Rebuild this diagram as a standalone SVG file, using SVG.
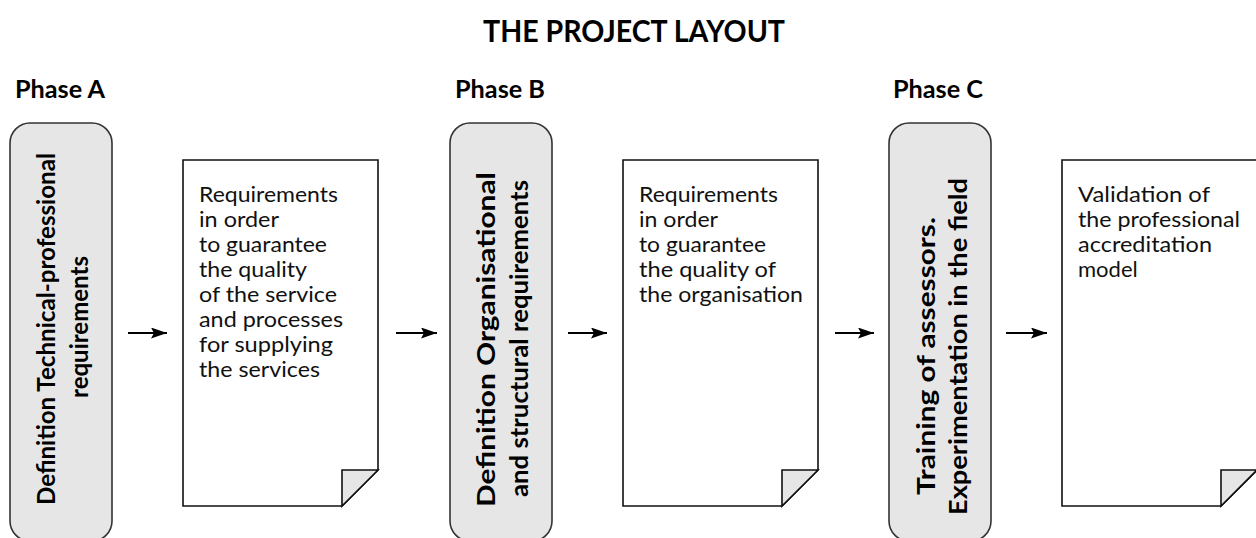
<svg xmlns="http://www.w3.org/2000/svg" width="1256" height="538" viewBox="0 0 1256 538">
<style>
text{font-family:Lato,"Liberation Sans",sans-serif;fill:#000}
.title{font-size:30px;font-weight:bold}
.phase{font-size:24px;font-weight:bold}
.vt{font-size:24px;font-weight:bold}
.dt{font-size:22px;fill:#111}
.box{fill:#e6e6e6;stroke:#333;stroke-width:1.6}
.doc{fill:#fff;stroke:#111;stroke-width:1.6;stroke-linejoin:miter}
.fold{fill:#e6e6e6;stroke:#111;stroke-width:1.6}
.arr{stroke:#000;stroke-width:2.2;marker-end:url(#ah)}
</style>
<defs>
<marker id="ah" markerWidth="17" markerHeight="11" refX="16" refY="5.5" orient="auto" markerUnits="userSpaceOnUse">
<path d="M0,0 L16,5.5 L0,11 L3,5.5 Z" fill="#000"/>
</marker>
</defs>
<rect width="1256" height="538" fill="#fff"/>
<text class="title" x="483" y="42" textLength="302" lengthAdjust="spacingAndGlyphs">THE PROJECT LAYOUT</text>
<text class="phase" x="15" y="98" textLength="90" lengthAdjust="spacingAndGlyphs">Phase A</text>
<text class="phase" x="455" y="98" textLength="90" lengthAdjust="spacingAndGlyphs">Phase B</text>
<text class="phase" x="893" y="98" textLength="90" lengthAdjust="spacingAndGlyphs">Phase C</text>

<g id="boxA">
<rect class="box" x="10" y="123" width="102" height="418" rx="20"/>
<text class="vt" transform="translate(55,505) rotate(-90)" textLength="352" lengthAdjust="spacingAndGlyphs">Definition Technical-professional</text>
<text class="vt" transform="translate(88,327) rotate(-90)" text-anchor="middle">requirements</text>
</g>
<g id="docA">
<path class="doc" d="M183,160 H378 V470 L342,506 H183 Z"/>
<path class="fold" d="M342,470 H378 L342,506 Z"/>
<text class="dt" x="199" y="202" textLength="139" lengthAdjust="spacingAndGlyphs">Requirements</text>
<text class="dt" x="199" y="227" textLength="80" lengthAdjust="spacingAndGlyphs">in order</text>
<text class="dt" x="199" y="252" textLength="128" lengthAdjust="spacingAndGlyphs">to guarantee</text>
<text class="dt" x="199" y="277" textLength="108" lengthAdjust="spacingAndGlyphs">the quality</text>
<text class="dt" x="199" y="302" textLength="138" lengthAdjust="spacingAndGlyphs">of the service</text>
<text class="dt" x="199" y="327" textLength="144" lengthAdjust="spacingAndGlyphs">and processes</text>
<text class="dt" x="199" y="352" textLength="134" lengthAdjust="spacingAndGlyphs">for supplying</text>
<text class="dt" x="199" y="377" textLength="121" lengthAdjust="spacingAndGlyphs">the services</text>
</g>

<g id="boxB">
<rect class="box" x="450" y="123" width="102" height="418" rx="20"/>
<text class="vt" transform="translate(495,507) rotate(-90)" textLength="335" lengthAdjust="spacingAndGlyphs">Definition Organisational</text>
<text class="vt" transform="translate(528,497) rotate(-90)" textLength="317" lengthAdjust="spacingAndGlyphs">and structural requirements</text>
</g>
<g id="docB">
<path class="doc" d="M623,160 H818 V470 L782,506 H623 Z"/>
<path class="fold" d="M782,470 H818 L782,506 Z"/>
<text class="dt" x="639" y="202" textLength="139" lengthAdjust="spacingAndGlyphs">Requirements</text>
<text class="dt" x="639" y="227" textLength="79" lengthAdjust="spacingAndGlyphs">in order</text>
<text class="dt" x="639" y="252" textLength="127" lengthAdjust="spacingAndGlyphs">to guarantee</text>
<text class="dt" x="639" y="277" textLength="137" lengthAdjust="spacingAndGlyphs">the quality of</text>
<text class="dt" x="639" y="302" textLength="164" lengthAdjust="spacingAndGlyphs">the organisation</text>
</g>

<g id="boxC">
<rect class="box" x="889" y="123" width="102" height="418" rx="20"/>
<text class="vt" transform="translate(935,495) rotate(-90)" textLength="278" lengthAdjust="spacingAndGlyphs">Training of assessors.</text>
<text class="vt" transform="translate(967,515) rotate(-90)" textLength="337" lengthAdjust="spacingAndGlyphs">Experimentation in the field</text>
</g>
<g id="docC">
<path class="doc" d="M1062,160 H1257 V470 L1221,506 H1062 Z"/>
<path class="fold" d="M1221,470 H1257 L1221,506 Z"/>
<text class="dt" x="1078" y="202" textLength="132" lengthAdjust="spacingAndGlyphs">Validation of</text>
<text class="dt" x="1078" y="227" textLength="162" lengthAdjust="spacingAndGlyphs">the professional</text>
<text class="dt" x="1078" y="252" textLength="134" lengthAdjust="spacingAndGlyphs">accreditation</text>
<text class="dt" x="1078" y="277">model</text>
</g>

<g id="connectors">
<line class="arr" x1="128" y1="333" x2="167" y2="333"/>
<line class="arr" x1="396" y1="333" x2="437" y2="333"/>
<line class="arr" x1="568" y1="333" x2="607" y2="333"/>
<line class="arr" x1="835" y1="333" x2="874" y2="333"/>
<line class="arr" x1="1006" y1="333" x2="1047" y2="333"/>
</g>
</svg>
